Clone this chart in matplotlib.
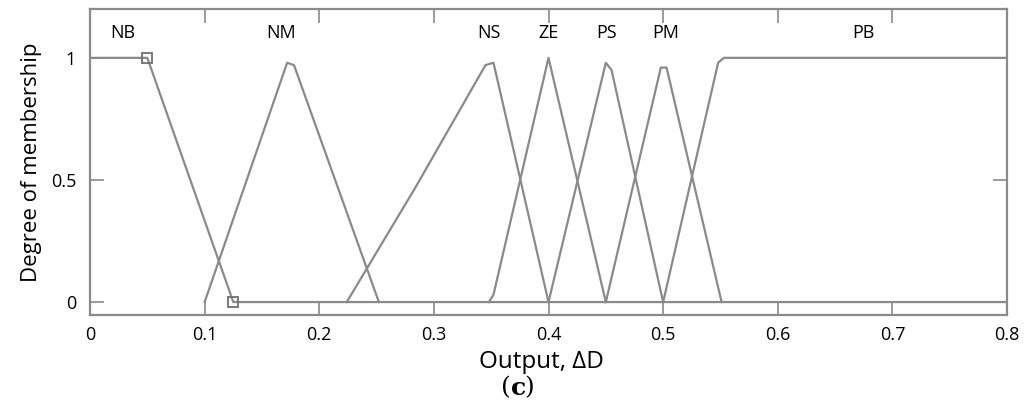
import matplotlib
matplotlib.use("Agg")
import matplotlib.pyplot as plt

plt.rcParams['font.family'] = ['Open Sans', 'DejaVu Sans']

# membership functions (x breakpoints, y values)
nb_x = [0.0, 0.05, 0.125, 0.8]
nb_y = [1.0, 1.0, 0.0, 0.0]
nm_x = [0.1, 0.172, 0.178, 0.252]
nm_y = [0.0, 0.98, 0.97, 0.0]
ns_x = [0.224, 0.284, 0.345, 0.352, 0.40]
ns_y = [0.0, 0.47, 0.97, 0.98, 0.0]
ze_x = [0.348, 0.352, 0.40, 0.45]
ze_y = [0.0, 0.03, 1.0, 0.0]
ps_x = [0.40, 0.45, 0.455, 0.50]
ps_y = [0.0, 0.98, 0.95, 0.0]
pm_x = [0.45, 0.498, 0.503, 0.551]
pm_y = [0.0, 0.96, 0.96, 0.0]
pb_x = [0.50, 0.548, 0.553, 0.8]
pb_y = [0.0, 0.98, 1.0, 1.0]

labels = ['NB', 'NM', 'NS', 'ZE', 'PS', 'PM', 'PB']
label_x = [0.029, 0.167, 0.348, 0.40, 0.451, 0.502, 0.675]
label_y = 1.1

marker_x = [0.05, 0.125]
marker_y = [1.0, 0.0]

xticks = [0, 0.1, 0.2, 0.3, 0.4, 0.5, 0.6, 0.7, 0.8]
xtick_labels = ['0', '0.1', '0.2', '0.3', '0.4', '0.5', '0.6', '0.7', '0.8']
yticks = [0, 0.5, 1]
ytick_labels = ['0', '0.5', '1']

fig = plt.figure(figsize=(10.24, 4.11), dpi=100)
ax = fig.add_axes([0.0879, 0.2336, 0.8955, 0.7445])

line_color = '#8a8a8a'
for xs, ys in [(nb_x, nb_y), (nm_x, nm_y), (ns_x, ns_y), (ze_x, ze_y),
               (ps_x, ps_y), (pm_x, pm_y), (pb_x, pb_y)]:
    ax.plot(xs, ys, color=line_color, linewidth=1.6)

ax.plot(marker_x, marker_y, linestyle='none', marker='s', markersize=7,
        markerfacecolor='none', markeredgecolor='#707070', markeredgewidth=1.3)

for lab, lx in zip(labels, label_x):
    ax.text(lx, label_y, lab, ha='center', va='center', fontsize=13, color='black')

ax.set_xlim(0, 0.8)
ax.set_ylim(-0.053, 1.2)
ax.set_xticks(xticks)
ax.set_xticklabels(xtick_labels)
ax.set_yticks(yticks)
ax.set_yticklabels(ytick_labels)
ax.tick_params(direction='in', top=True, right=True, length=10, width=1.2,
               color=line_color, labelsize=13)
ax.tick_params(axis='x', pad=8)
ax.tick_params(axis='y', pad=10)

for sp in ax.spines.values():
    sp.set_color(line_color)
    sp.set_linewidth(1.6)

ax.set_xlabel('Output, ΔD', fontsize=17.5)
ax.set_ylabel('Degree of membership', fontsize=16, labelpad=6)
ax.xaxis.set_label_coords(0.492, -0.115)

fig.text(0.499, 0.056, '(', fontsize=18, family='DejaVu Serif', ha='right', va='center')
fig.text(0.499, 0.056, 'c', fontsize=18, family='DejaVu Serif', weight='bold', ha='left', va='center')
fig.text(0.512, 0.056, ')', fontsize=18, family='DejaVu Serif', ha='left', va='center')

fig.savefig('out.png', dpi=100)
